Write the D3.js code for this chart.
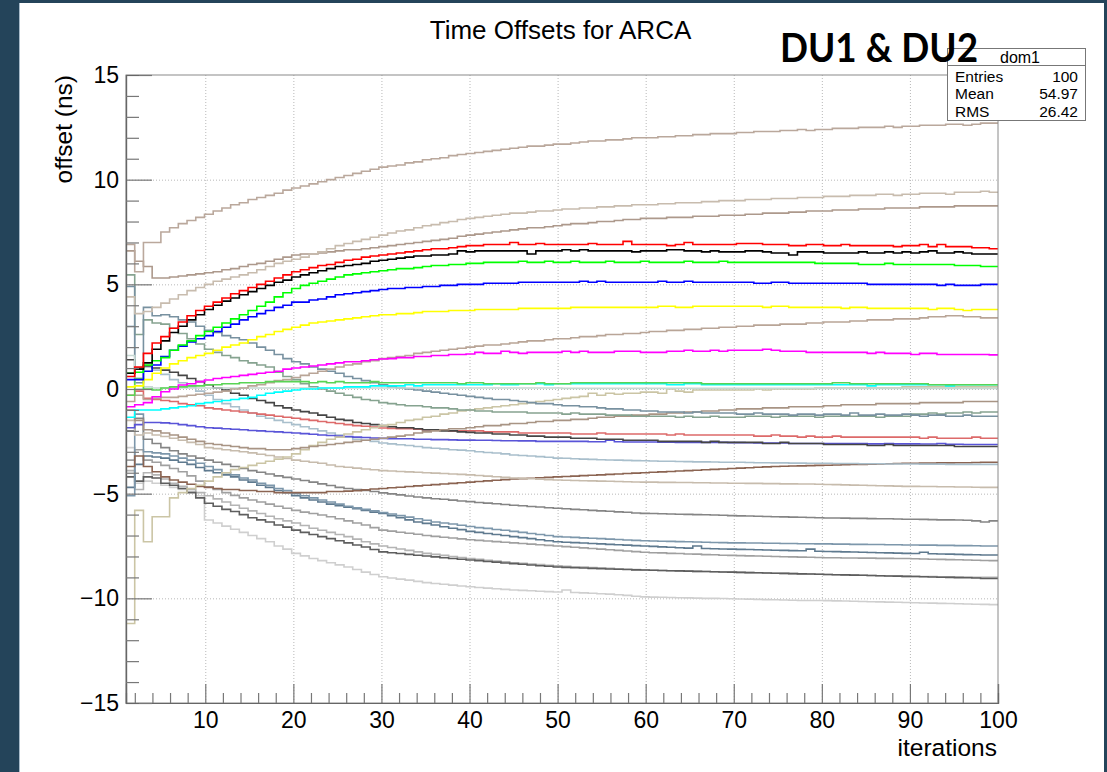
<!DOCTYPE html>
<html>
<head>
<meta charset="utf-8">
<script src="https://cdn.jsdelivr.net/npm/d3@7"></script>
<style>
body { margin: 0; background: #24445a; }
svg { display: block; }
</style>
</head>
<body>
<svg id="chart" width="1107" height="772"></svg>
<script>
// offsets per iteration (ns), one value per bin
var tanTop = [6.9,5.6,7.0,7.0,7.5,7.7,7.9,8.05,8.2,8.35, 8.5,8.65,8.8,8.9,9.05,9.15,9.25,9.35,9.5,9.6,
  9.7,9.8,9.9,10.0,10.1,10.2,10.3,10.4,10.5,10.6, 10.65,10.7,10.8,10.85,10.95,11.0,11.05,11.15,11.2,11.25,
  11.3,11.35,11.4,11.45,11.5,11.55,11.6,11.6,11.65,11.7, 11.7,11.75,11.8,11.85,11.85,11.9,11.9,11.95,12.0,12.0,
  12.0,12.05,12.05,12.1,12.1,12.15,12.15,12.2,12.2,12.2, 12.25,12.25,12.3,12.3,12.3,12.35,12.35,12.4,12.35,12.4,
  12.4,12.45,12.45,12.45,12.5,12.5,12.5,12.55,12.5,12.55, 12.55,12.6,12.6,12.6,12.65,12.65,12.6,12.65,12.7,12.7];
var tanLight = [4.4,3.6,3.7,3.9,4.1,4.3,4.5,4.7,4.85,5.0, 5.15,5.25,5.35,5.45,5.55,5.7,5.85,6.0,6.1,6.2,
  6.3,6.45,6.55,6.7,6.85,6.95,7.05,7.15,7.25,7.35, 7.45,7.55,7.6,7.7,7.8,7.85,7.95,8.0,8.1,8.15,
  8.2,8.25,8.3,8.35,8.4,8.4,8.45,8.5,8.5,8.55, 8.6,8.6,8.65,8.65,8.7,8.7,8.75,8.75,8.8,8.8,
  8.8,8.85,8.85,8.9,8.9,8.9,8.95,8.95,9.0,9.0, 9.0,9.05,9.05,9.05,9.1,9.1,9.1,9.15,9.15,9.15,
  9.2,9.2,9.2,9.25,9.25,9.25,9.3,9.3,9.25,9.3, 9.3,9.35,9.35,9.35,9.3,9.4,9.4,9.4,9.45,9.4];
var brownTan = [6.6,6.1,5.85,5.3,5.3,5.35,5.4,5.45,5.5,5.55, 5.6,5.7,5.75,5.85,5.95,6.0,6.1,6.2,6.3,6.4,
  6.45,6.45,6.5,6.55,6.6,6.65,6.65,6.7,6.75,6.8, 6.85,6.9,6.95,7.0,7.05,7.1,7.15,7.2,7.3,7.35,
  7.4,7.45,7.5,7.55,7.6,7.65,7.7,7.7,7.75,7.8, 7.85,7.9,7.9,7.95,8.0,8.0,8.05,8.1,8.1,8.15,
  8.15,8.15,8.2,8.2,8.2,8.25,8.25,8.25,8.3,8.3, 8.3,8.35,8.35,8.4,8.4,8.4,8.45,8.45,8.5,8.5,
  8.5,8.55,8.55,8.55,8.6,8.6,8.6,8.65,8.65,8.65, 8.65,8.7,8.7,8.7,8.7,8.75,8.75,8.75,8.75,8.75];
var red = [0.6,1.05,1.7,2.2,2.5,2.9,3.2,3.5,3.75,3.95, 4.15,4.35,4.55,4.7,4.85,5.0,5.15,5.3,5.45,5.6,
  5.7,5.8,5.9,5.95,6.05,6.15,6.2,6.3,6.35,6.4, 6.45,6.5,6.55,6.6,6.65,6.7,6.7,6.75,6.8,6.85,
  6.85,6.9,6.9,6.9,7.0,6.9,6.9,6.95,6.9,6.9, 6.9,6.9,6.9,6.95,6.9,6.9,6.9,7.05,6.9,6.9,
  6.9,6.9,6.85,6.9,7.0,6.9,6.9,6.9,6.9,6.9, 6.95,6.95,6.95,6.9,6.9,6.9,6.85,6.85,6.9,6.9,
  6.85,6.85,6.9,6.85,6.85,6.85,6.85,6.85,6.8,6.85, 6.85,6.9,6.8,6.9,6.8,6.8,6.8,6.75,6.75,6.7];
var black = [0.75,0.95,1.25,1.9,2.3,2.7,3.0,3.3,3.55,3.8, 4.0,4.2,4.35,4.5,4.65,4.8,4.95,5.1,5.2,5.35,
  5.45,5.55,5.65,5.75,5.85,5.9,5.95,6.0,6.1,6.15, 6.2,6.25,6.3,6.35,6.35,6.4,6.4,6.45,6.6,6.55,
  6.6,6.6,6.6,6.6,6.6,6.6,6.45,6.6,6.6,6.6, 6.65,6.6,6.65,6.6,6.6,6.6,6.6,6.6,6.55,6.6,
  6.6,6.6,6.65,6.65,6.6,6.6,6.55,6.6,6.55,6.55, 6.55,6.6,6.6,6.55,6.5,6.5,6.4,6.55,6.55,6.55,
  6.5,6.5,6.5,6.5,6.55,6.5,6.5,6.55,6.5,6.55, 6.5,6.55,6.6,6.5,6.5,6.55,6.5,6.45,6.45,6.45];
var green = [0.75,0.8,1.15,1.35,1.5,1.85,2.1,2.3,2.55,2.75, 2.95,3.15,3.35,3.55,3.75,3.95,4.15,4.4,4.6,4.8,
  4.95,5.05,5.15,5.25,5.35,5.45,5.5,5.55,5.6,5.65, 5.7,5.75,5.75,5.8,5.85,5.9,5.9,5.95,5.95,6.0,
  6.0,6.05,6.05,6.05,6.05,6.1,6.05,6.05,6.1,6.05, 6.05,6.1,6.05,6.05,6.05,6.1,6.05,6.05,6.05,6.1,
  6.05,6.05,6.05,6.05,6.1,6.05,6.05,6.05,6.1,6.05, 6.05,6.05,6.05,6.05,6.05,6.05,6.05,6.05,6.05,6.0,
  6.0,6.0,6.0,6.0,5.95,5.95,5.95,6.0,5.95,5.95, 5.95,5.95,5.95,5.95,5.95,5.9,5.9,5.9,5.85,5.85];
var blue = [0.45,0.45,0.85,1.15,1.55,1.85,2.05,2.25,2.4,2.55, 2.75,2.95,3.1,3.3,3.45,3.6,3.75,3.9,4.0,4.15,
  4.15,4.25,4.3,4.4,4.5,4.55,4.6,4.65,4.7,4.75, 4.8,4.8,4.85,4.85,4.9,4.9,4.95,4.95,5.0,5.0,
  5.0,5.05,5.05,5.05,5.05,5.1,5.1,5.1,5.1,5.1, 5.1,5.1,5.15,5.1,5.15,5.1,5.1,5.1,5.1,5.1,
  5.1,5.15,5.1,5.1,5.15,5.1,5.1,5.1,5.1,5.1, 5.1,5.1,5.05,5.05,5.1,5.1,5.05,5.05,5.05,5.05,
  5.05,5.05,5.05,5.05,5.05,5.0,5.0,5.0,5.0,5.0, 5.0,5.0,5.0,4.95,5.0,4.95,4.95,4.95,5.0,5.0];
var yellow = [0.1,0.15,0.45,0.75,1.0,1.2,1.35,1.5,1.6,1.7, 1.85,2.0,2.1,2.2,2.35,2.5,2.6,2.75,2.85,2.95,
  3.05,3.15,3.2,3.25,3.3,3.35,3.4,3.45,3.5,3.55, 3.55,3.6,3.6,3.65,3.7,3.7,3.7,3.75,3.75,3.75,
  3.8,3.8,3.8,3.8,3.8,3.85,3.85,3.85,3.85,3.85, 3.85,3.9,3.9,3.9,3.9,3.9,3.9,3.9,3.9,3.9,
  3.9,3.95,3.95,3.9,3.9,3.95,3.95,3.95,3.95,3.95, 3.95,3.95,3.95,3.9,3.95,3.95,3.9,3.9,3.9,3.9,
  3.9,3.9,3.85,3.9,3.9,3.85,3.85,3.85,3.85,3.85, 3.85,3.85,3.8,3.85,3.85,3.8,3.75,3.8,3.8,3.8];
var tanMid = [-0.6,-0.3,-0.5,-0.45,-0.4,-0.4,-0.35,-0.3,-0.25,-0.2, -0.15,-0.1,0.0,0.05,0.15,0.2,0.3,0.4,0.45,0.55,
  0.65,0.75,0.85,0.95,1.05,1.15,1.2,1.3,1.35,1.45, 1.5,1.55,1.6,1.7,1.75,1.8,1.85,1.9,1.95,2.0,
  2.05,2.1,2.1,2.15,2.2,2.25,2.3,2.3,2.35,2.4, 2.4,2.45,2.5,2.5,2.55,2.6,2.6,2.65,2.65,2.7,
  2.75,2.75,2.8,2.8,2.85,2.85,2.9,2.9,2.95,2.95, 3.0,3.0,3.05,3.05,3.05,3.1,3.1,3.1,3.15,3.15,
  3.2,3.2,3.2,3.25,3.25,3.3,3.3,3.3,3.35,3.35, 3.35,3.4,3.45,3.45,3.5,3.5,3.45,3.45,3.4,3.4];
var magenta = [-0.85,-0.75,-0.65,-0.37,-0.13,0.0,0.19,0.25,0.35,0.43, 0.5,0.55,0.6,0.65,0.7,0.75,0.8,0.85,0.95,1.0,
  1.05,1.1,1.15,1.2,1.25,1.3,1.3,1.35,1.4,1.43, 1.45,1.5,1.5,1.55,1.55,1.6,1.6,1.65,1.65,1.67,
  1.75,1.7,1.7,1.8,1.75,1.7,1.75,1.75,1.75,1.75, 1.8,1.75,1.8,1.75,1.75,1.75,1.8,1.8,1.8,1.75,
  1.75,1.75,1.8,1.8,1.85,1.8,1.8,1.85,1.8,1.85, 1.85,1.85,1.85,1.9,1.85,1.8,1.8,1.8,1.75,1.75,
  1.75,1.75,1.75,1.75,1.75,1.7,1.75,1.7,1.7,1.7, 1.65,1.7,1.7,1.65,1.65,1.65,1.65,1.65,1.65,1.63];
var lightGreen = [-0.3,0.5,0.0,-0.05,0.05,0.1,0.1,0.15,0.15,0.2, 0.2,0.25,0.25,0.3,0.3,0.3,0.35,0.35,0.35,0.35,
  0.35,0.3,0.35,0.3,0.35,0.3,0.3,0.3,0.35,0.3, 0.3,0.3,0.3,0.3,0.3,0.3,0.3,0.3,0.25,0.3,
  0.3,0.25,0.25,0.25,0.25,0.25,0.25,0.3,0.25,0.25, 0.25,0.3,0.3,0.3,0.3,0.3,0.3,0.3,0.3,0.3,
  0.3,0.3,0.3,0.3,0.3,0.3,0.25,0.25,0.25,0.25, 0.25,0.25,0.25,0.25,0.25,0.25,0.25,0.25,0.25,0.25,
  0.25,0.3,0.3,0.25,0.25,0.25,0.25,0.25,0.25,0.25, 0.25,0.25,0.2,0.2,0.2,0.2,0.2,0.2,0.2,0.2];
var cyan = [-1.35,-1.0,-1.0,-1.0,-0.95,-0.9,-0.85,-0.8,-0.7,-0.65, -0.6,-0.55,-0.5,-0.45,-0.4,-0.3,-0.2,-0.15,-0.1,-0.05,
  0.0,0.0,0.05,0.05,0.05,0.1,0.1,0.1,0.15,0.15, 0.15,0.15,0.2,0.15,0.2,0.2,0.2,0.2,0.2,0.2,
  0.2,0.2,0.25,0.2,0.2,0.25,0.25,0.25,0.2,0.25, 0.25,0.25,0.25,0.25,0.25,0.25,0.25,0.25,0.25,0.25,
  0.25,0.25,0.2,0.2,0.25,0.25,0.2,0.2,0.2,0.2, 0.2,0.2,0.2,0.2,0.2,0.2,0.2,0.2,0.2,0.2,
  0.2,0.2,0.2,0.2,0.2,0.15,0.2,0.2,0.2,0.2, 0.2,0.2,0.2,0.2,0.15,0.2,0.2,0.2,0.2,0.2];
var paleTeal = [1.6,0.0,0.1,0.05,0.05,0.05,0.05,0.05,0.05,0.05, 0.05,0.05,0.05,0.05,0.05,0.05,0.05,0.05,0.05,0.05,
  0.05,0.05,0.05,0.05,0.05,0.05,0.05,0.05,0.05,0.05, 0.05,0.05,0.05,0.05,0.05,0.05,0.05,0.05,0.05,0.05,
  0.05,0.05,0.05,0.05,0.05,0.05,0.05,0.05,0.05,0.05, 0.03,0.03,0.03,0.03,0.03,0.03,0.03,0.03,0.03,0.03,
  0.03,0.03,0.03,0.03,0.03,0.03,0.03,0.03,0.03,0.03, 0.03,0.03,0.03,0.03,0.03,0.03,0.03,0.03,0.03,0.03,
  0.03,0.03,0.03,0.03,0.03,0.03,0.03,0.03,0.03,0.03, 0.03,0.03,0.03,0.03,0.03,0.03,0.03,0.03,0.03,0.03];
var blueGrayHigh = [4.9,0.3,3.9,3.5,3.55,3.45,3.3,3.2,3.0,2.8, 2.7,2.55,2.45,2.35,2.2,2.0,1.85,1.65,1.45,1.3,
  1.2,1.05,0.95,0.85,0.75,0.6,0.5,0.4,0.3,0.2, 0.1,0.05,0.0,-0.05,-0.1,-0.15,-0.2,-0.25,-0.3,-0.35,
  -0.4,-0.45,-0.5,-0.5,-0.55,-0.6,-0.65,-0.7,-0.7,-0.75, -0.8,-0.8,-0.85,-0.85,-0.9,-0.95,-0.95,-1.0,-1.0,-1.05,
  -1.05,-1.1,-1.1,-1.1,-1.15,-1.1,-1.15,-1.15,-1.15,-1.15, -1.2,-1.2,-1.15,-1.2,-1.2,-1.2,-1.25,-1.2,-1.2,-1.25,
  -1.2,-1.2,-1.25,-1.15,-1.25,-1.25,-1.2,-1.25,-1.25,-1.2, -1.25,-1.3,-1.25,-1.25,-1.3,-1.3,-1.25,-1.3,-1.3,-1.3];
var grayGreen = [5.45,2.6,3.3,3.15,3.1,2.9,2.65,2.4,2.15,1.9, 1.75,1.6,1.5,1.35,1.25,1.15,1.05,0.8,0.6,0.45,
  0.25,0.1,0.0,-0.1,-0.2,-0.3,-0.4,-0.5,-0.55,-0.65, -0.7,-0.75,-0.8,-0.8,-0.85,-0.9,-0.9,-0.95,-1.0,-1.0,
  -1.05,-1.05,-1.1,-1.1,-1.1,-1.1,-1.15,-1.15,-1.15,-1.15, -1.2,-1.15,-1.2,-1.2,-1.2,-1.25,-1.25,-1.25,-1.3,-1.3,
  -1.3,-1.3,-1.3,-1.35,-1.3,-1.35,-1.35,-1.3,-1.35,-1.35, -1.35,-1.3,-1.3,-1.3,-1.35,-1.3,-1.3,-1.3,-1.3,-1.35,
  -1.3,-1.3,-1.3,-1.3,-1.3,-1.3,-1.35,-1.3,-1.3,-1.3, -1.2,-1.2,-1.15,-1.2,-1.15,-1.15,-1.1,-1.15,-1.1,-1.1];
var brownTanLow = [-1.0,-1.5,-1.95,-2.0,-2.1,-2.2,-2.3,-2.4,-2.5,-2.6, -2.65,-2.7,-2.75,-2.8,-2.85,-2.85,-2.9,-2.9,-2.9,-2.85,
  -2.8,-2.75,-2.7,-2.65,-2.6,-2.55,-2.5,-2.45,-2.4,-2.35, -2.3,-2.25,-2.2,-2.1,-2.05,-2.0,-1.95,-1.9,-1.9,-1.85,
  -1.8,-1.75,-1.75,-1.7,-1.65,-1.65,-1.6,-1.55,-1.55,-1.5, -1.5,-1.45,-1.45,-1.4,-1.35,-1.35,-1.3,-1.3,-1.25,-1.25,
  -1.2,-1.2,-1.15,-1.15,-1.1,-1.1,-1.05,-1.05,-1.0,-1.0, -0.95,-0.95,-0.95,-0.9,-0.9,-0.9,-0.85,-0.85,-0.85,-0.85,
  -0.8,-0.8,-0.75,-0.75,-0.75,-0.75,-0.7,-0.7,-0.7,-0.7, -0.7,-0.65,-0.65,-0.65,-0.65,-0.65,-0.6,-0.6,-0.6,-0.6];
var khaki = [-11.2,-5.8,-7.3,-6.1,-6.1,-5.2,-4.95,-4.75,-4.6,-4.4, -4.2,-4.0,-3.85,-3.75,-3.65,-3.55,-3.45,-3.35,-3.25,-3.1,
  -2.9,-2.7,-2.55,-2.4,-2.3,-2.15,-2.05,-1.95,-1.85,-1.75, -1.7,-1.6,-1.5,-1.45,-1.35,-1.3,-1.2,-1.15,-1.05,-1.0,
  -0.95,-0.9,-0.85,-0.8,-0.75,-0.7,-0.65,-0.6,-0.55,-0.5, -0.45,-0.4,-0.35,-0.2,-0.3,-0.2,-0.25,-0.2,-0.2,-0.15,
  -0.15,-0.2,0.0,-0.1,-0.15,-0.05,-0.05,-0.05,-0.05,-0.05, -0.05,-0.05,0.0,-0.05,0.0,0.0,0.0,0.0,0.0,0.05,
  0.05,0.05,0.05,0.05,0.05,0.05,0.05,0.05,0.05,0.1, 0.1,0.1,0.1,0.1,0.1,0.1,0.1,0.1,0.1,0.1];
var darkGray = [1.4,1.0,1.1,1.0,0.9,0.8,0.65,0.5,0.35,0.2, 0.05,-0.05,-0.2,-0.3,-0.45,-0.55,-0.65,-0.8,-0.9,-1.0,
  -1.08,-1.15,-1.25,-1.35,-1.45,-1.5,-1.6,-1.65,-1.7,-1.75, -1.8,-1.85,-1.85,-1.9,-1.95,-1.95,-2.0,-2.0,-2.05,-2.07,
  -2.1,-2.1,-2.15,-2.15,-2.2,-2.2,-2.25,-2.25,-2.3,-2.3, -2.3,-2.35,-2.35,-2.35,-2.4,-2.4,-2.4,-2.45,-2.45,-2.45,
  -2.45,-2.5,-2.5,-2.5,-2.5,-2.5,-2.55,-2.5,-2.55,-2.55, -2.55,-2.55,-2.55,-2.6,-2.6,-2.55,-2.6,-2.6,-2.6,-2.6,
  -2.65,-2.65,-2.65,-2.65,-2.65,-2.7,-2.7,-2.65,-2.7,-2.7, -2.7,-2.7,-2.7,-2.7,-2.7,-2.75,-2.75,-2.75,-2.75,-2.75];
var lightRed = [-0.3,-0.1,-0.45,-0.5,-0.55,-0.6,-0.7,-0.75,-0.8,-0.9, -0.95,-1.0,-1.05,-1.1,-1.15,-1.2,-1.25,-1.3,-1.35,-1.4,
  -1.45,-1.5,-1.55,-1.6,-1.65,-1.7,-1.75,-1.78,-1.82,-1.86, -1.88,-1.9,-1.9,-1.92,-1.95,-1.95,-1.97,-2.0,-2.0,-2.0,
  -2.0,-2.05,-2.05,-2.05,-2.05,-2.1,-2.1,-2.1,-2.1,-2.1, -2.1,-2.15,-2.15,-2.15,-2.1,-2.15,-2.15,-2.15,-2.15,-2.15,
  -2.15,-2.15,-2.2,-2.15,-2.2,-2.2,-2.2,-2.2,-2.2,-2.2, -2.2,-2.2,-2.25,-2.25,-2.2,-2.25,-2.25,-2.3,-2.25,-2.3,
  -2.3,-2.25,-2.3,-2.3,-2.3,-2.3,-2.3,-2.3,-2.3,-2.3, -2.3,-2.35,-2.3,-2.35,-2.35,-2.35,-2.35,-2.3,-2.35,-2.35];
var bluePurple = [-1.85,-1.7,-1.6,-1.6,-1.62,-1.65,-1.7,-1.75,-1.8,-1.85, -1.87,-1.9,-1.92,-1.95,-1.98,-2.0,-2.03,-2.05,-2.08,-2.1,
  -2.13,-2.16,-2.2,-2.22,-2.25,-2.27,-2.3,-2.32,-2.34,-2.36, -2.37,-2.38,-2.38,-2.4,-2.4,-2.42,-2.42,-2.43,-2.44,-2.44,
  -2.45,-2.45,-2.46,-2.47,-2.47,-2.48,-2.48,-2.5,-2.5,-2.5, -2.5,-2.5,-2.5,-2.52,-2.52,-2.45,-2.52,-2.53,-2.53,-2.53,
  -2.53,-2.54,-2.54,-2.55,-2.55,-2.55,-2.55,-2.55,-2.55,-2.56, -2.56,-2.57,-2.58,-2.58,-2.58,-2.58,-2.6,-2.6,-2.6,-2.6,
  -2.6,-2.6,-2.6,-2.6,-2.6,-2.62,-2.62,-2.6,-2.62,-2.62, -2.62,-2.63,-2.63,-2.6,-2.64,-2.64,-2.65,-2.65,-2.65,-2.65];
var lightBlueGray = [3.0,0.5,1.05,0.9,0.7,0.45,0.3,0.1,-0.1,-0.3, -0.5,-0.7,-0.85,-1.0,-1.15,-1.3,-1.4,-1.5,-1.6,-1.7,
  -1.8,-1.9,-2.0,-2.1,-2.2,-2.3,-2.4,-2.45,-2.5,-2.58, -2.62,-2.66,-2.7,-2.75,-2.8,-2.83,-2.86,-2.9,-2.92,-2.95,
  -3.0,-3.03,-3.06,-3.1,-3.15,-3.18,-3.2,-3.23,-3.26,-3.3, -3.31,-3.33,-3.35,-3.36,-3.38,-3.39,-3.4,-3.41,-3.42,-3.43,
  -3.44,-3.45,-3.45,-3.46,-3.47,-3.48,-3.48,-3.49,-3.5,-3.5, -3.5,-3.51,-3.52,-3.52,-3.53,-3.53,-3.54,-3.54,-3.55,-3.55,
  -3.55,-3.56,-3.56,-3.56,-3.57,-3.57,-3.57,-3.58,-3.58,-3.58, -3.58,-3.59,-3.59,-3.59,-3.6,-3.6,-3.6,-3.6,-3.6,-3.6];
var paleTan = [-1.5,-2.2,-2.1,-2.2,-2.27,-2.35,-2.45,-2.55,-2.65,-2.8, -2.85,-2.9,-2.95,-3.0,-3.05,-3.12,-3.18,-3.25,-3.32,-3.4,
  -3.45,-3.5,-3.55,-3.63,-3.7,-3.74,-3.78,-3.82,-3.86,-3.9, -3.92,-3.94,-3.96,-3.98,-4.0,-4.02,-4.04,-4.06,-4.08,-4.1,
  -4.13,-4.16,-4.19,-4.22,-4.25,-4.27,-4.29,-4.31,-4.33,-4.35, -4.36,-4.37,-4.38,-4.39,-4.4,-4.41,-4.42,-4.43,-4.44,-4.45,
  -4.45,-4.46,-4.46,-4.47,-4.47,-4.48,-4.48,-4.49,-4.49,-4.5, -4.5,-4.51,-4.51,-4.52,-4.52,-4.53,-4.53,-4.54,-4.54,-4.55,
  -4.56,-4.57,-4.58,-4.59,-4.6,-4.61,-4.62,-4.63,-4.64,-4.65, -4.65,-4.66,-4.66,-4.67,-4.67,-4.68,-4.68,-4.69,-4.7,-4.7];
var brown = [-3.7,-3.2,-3.7,-3.95,-4.2,-4.35,-4.45,-4.55,-4.65,-4.7, -4.75,-4.8,-4.8,-4.85,-4.85,-4.9,-4.9,-4.95,-4.95,-4.95,
  -4.95,-4.95,-4.95,-4.9,-4.9,-4.88,-4.86,-4.82,-4.78,-4.75, -4.72,-4.69,-4.66,-4.63,-4.6,-4.57,-4.54,-4.51,-4.48,-4.45,
  -4.42,-4.39,-4.36,-4.33,-4.3,-4.28,-4.26,-4.24,-4.22,-4.2, -4.18,-4.16,-4.14,-4.12,-4.1,-4.08,-4.06,-4.04,-4.02,-4.0,
  -3.98,-3.96,-3.94,-3.92,-3.9,-3.88,-3.86,-3.84,-3.82,-3.8, -3.78,-3.76,-3.74,-3.72,-3.7,-3.69,-3.68,-3.67,-3.66,-3.65,
  -3.64,-3.63,-3.62,-3.61,-3.6,-3.59,-3.58,-3.57,-3.56,-3.55, -3.55,-3.54,-3.54,-3.53,-3.53,-3.52,-3.52,-3.51,-3.5,-3.5];
var grayMid = [-2.0,-1.4,-2.4,-2.6,-2.8,-2.95,-3.1,-3.2,-3.3,-3.4, -3.5,-3.6,-3.7,-3.8,-3.9,-3.98,-4.06,-4.15,-4.22,-4.3,
  -4.37,-4.45,-4.53,-4.61,-4.7,-4.75,-4.8,-4.85,-4.9,-4.96, -5.01,-5.06,-5.11,-5.16,-5.2,-5.24,-5.27,-5.31,-5.35,-5.38,
  -5.42,-5.45,-5.48,-5.52,-5.55,-5.58,-5.61,-5.64,-5.67,-5.7, -5.72,-5.75,-5.77,-5.8,-5.82,-5.84,-5.87,-5.89,-5.92,-5.94,
  -5.95,-5.96,-5.97,-5.98,-5.99,-6.0,-6.01,-6.02,-6.03,-6.05, -6.06,-6.07,-6.08,-6.09,-6.1,-6.11,-6.12,-6.13,-6.14,-6.15,
  -6.16,-6.16,-6.17,-6.18,-6.18,-6.19,-6.2,-6.2,-6.21,-6.22, -6.22,-6.23,-6.24,-6.25,-6.25,-6.26,-6.27,-6.3,-6.35,-6.3];
var blueGrayLight = [-5.1,-1.2,-3.0,-3.05,-3.1,-3.2,-3.3,-3.4,-3.55,-3.7, -3.85,-4.0,-4.1,-4.25,-4.35,-4.5,-4.6,-4.75,-4.85,-5.0,
  -5.1,-5.2,-5.3,-5.4,-5.5,-5.6,-5.68,-5.75,-5.82,-5.9, -5.97,-6.05,-6.12,-6.2,-6.27,-6.35,-6.4,-6.45,-6.51,-6.57,
  -6.62,-6.66,-6.71,-6.75,-6.8,-6.85,-6.9,-6.95,-7.0,-7.05, -7.07,-7.09,-7.11,-7.13,-7.15,-7.17,-7.19,-7.21,-7.23,-7.25,
  -7.26,-7.27,-7.28,-7.29,-7.3,-7.31,-7.32,-7.33,-7.34,-7.35, -7.35,-7.36,-7.36,-7.37,-7.37,-7.38,-7.38,-7.39,-7.39,-7.4,
  -7.4,-7.41,-7.41,-7.42,-7.42,-7.43,-7.43,-7.44,-7.44,-7.45, -7.45,-7.46,-7.46,-7.47,-7.47,-7.48,-7.48,-7.49,-7.5,-7.5];
var blueGrayDark = [-4.7,-3.6,-3.2,-3.25,-3.3,-3.4,-3.5,-3.6,-3.75,-3.9, -4.0,-4.1,-4.2,-4.35,-4.45,-4.6,-4.7,-4.85,-4.95,-5.1,
  -5.2,-5.3,-5.4,-5.5,-5.58,-5.65,-5.72,-5.8,-5.88,-5.95, -6.05,-6.15,-6.25,-6.35,-6.42,-6.5,-6.58,-6.65,-6.72,-6.8,
  -6.85,-6.9,-6.95,-7.0,-7.05,-7.1,-7.15,-7.2,-7.25,-7.3, -7.32,-7.34,-7.36,-7.38,-7.4,-7.42,-7.44,-7.46,-7.48,-7.5,
  -7.52,-7.54,-7.56,-7.58,-7.6,-7.5,-7.62,-7.63,-7.64,-7.65, -7.66,-7.67,-7.68,-7.69,-7.7,-7.71,-7.72,-7.73,-7.65,-7.75,
  -7.76,-7.77,-7.78,-7.79,-7.8,-7.81,-7.82,-7.83,-7.84,-7.85, -7.86,-7.8,-7.87,-7.88,-7.89,-7.9,-7.91,-7.92,-7.93,-7.93];
var grayLow = [-3.4,-2.9,-3.4,-3.5,-3.65,-3.8,-3.95,-4.15,-4.4,-4.67, -4.8,-4.95,-5.08,-5.2,-5.3,-5.4,-5.5,-5.6,-5.7,-5.8,
  -5.88,-5.95,-6.02,-6.1,-6.2,-6.3,-6.4,-6.5,-6.62,-6.74, -6.79,-6.84,-6.89,-6.94,-7.0,-7.04,-7.08,-7.12,-7.16,-7.2,
  -7.23,-7.26,-7.29,-7.32,-7.35,-7.38,-7.41,-7.44,-7.47,-7.5, -7.53,-7.56,-7.59,-7.62,-7.65,-7.68,-7.71,-7.74,-7.77,-7.8,
  -7.82,-7.83,-7.85,-7.86,-7.88,-7.89,-7.91,-7.92,-7.94,-7.95, -7.96,-7.97,-7.98,-7.99,-8.0,-8.01,-8.02,-8.03,-8.04,-8.05,
  -8.06,-8.06,-8.07,-8.07,-8.08,-8.08,-8.09,-8.09,-8.1,-8.1, -8.11,-8.12,-8.13,-8.14,-8.15,-8.16,-8.17,-8.18,-8.19,-8.2];
var grayDark = [-4.2,-4.4,-4.2,-4.25,-4.5,-4.6,-4.75,-4.95,-5.2,-5.46, -5.6,-5.75,-5.85,-6.0,-6.15,-6.25,-6.35,-6.5,-6.6,-6.74,
  -6.85,-6.95,-7.05,-7.15,-7.25,-7.35,-7.45,-7.55,-7.67,-7.78, -7.82,-7.86,-7.9,-7.94,-7.98,-8.02,-8.06,-8.1,-8.13,-8.17,
  -8.2,-8.24,-8.27,-8.31,-8.34,-8.37,-8.41,-8.44,-8.47,-8.5, -8.52,-8.54,-8.55,-8.57,-8.58,-8.6,-8.61,-8.62,-8.64,-8.65,
  -8.66,-8.67,-8.68,-8.69,-8.7,-8.71,-8.72,-8.73,-8.74,-8.75, -8.76,-8.77,-8.78,-8.79,-8.8,-8.81,-8.82,-8.83,-8.84,-8.85,
  -8.86,-8.87,-8.88,-8.89,-8.9,-8.91,-8.92,-8.93,-8.94,-8.95, -8.96,-8.97,-8.98,-8.99,-9.0,-9.01,-9.02,-9.03,-9.05,-9.05];
var grayLight = [-3.9,-4.8,-4.0,-4.1,-4.3,-4.5,-4.65,-4.8,-4.95,-5.1, -5.25,-5.4,-5.55,-5.7,-5.82,-5.95,-6.08,-6.2,-6.3,-6.4,
  -6.52,-6.65,-6.75,-6.85,-6.95,-7.05,-7.17,-7.3,-7.4,-7.5, -7.57,-7.64,-7.71,-7.78,-7.85,-7.9,-7.95,-8.0,-8.05,-8.1,
  -8.14,-8.18,-8.22,-8.26,-8.3,-8.33,-8.36,-8.39,-8.42,-8.45, -8.47,-8.49,-8.51,-8.53,-8.55,-8.57,-8.59,-8.61,-8.63,-8.65,
  -8.66,-8.67,-8.68,-8.69,-8.7,-8.71,-8.72,-8.73,-8.74,-8.75, -8.76,-8.77,-8.78,-8.79,-8.8,-8.81,-8.82,-8.83,-8.84,-8.85,
  -8.86,-8.87,-8.88,-8.89,-8.9,-8.91,-8.92,-8.93,-8.94,-8.95, -8.95,-8.96,-8.96,-8.97,-8.97,-8.98,-8.98,-8.99,-9.0,-9.0];
var palestGray = [-2.8,-4.5,-4.4,-4.5,-4.6,-4.7,-4.8,-4.9,-5.1,-6.26, -6.4,-6.55,-6.7,-6.85,-7.0,-7.15,-7.3,-7.5,-7.65,-7.85,
  -7.97,-8.1,-8.2,-8.3,-8.4,-8.5,-8.62,-8.75,-8.86,-8.97, -9.03,-9.08,-9.13,-9.19,-9.25,-9.29,-9.33,-9.37,-9.41,-9.45,
  -9.48,-9.51,-9.54,-9.57,-9.6,-9.62,-9.64,-9.66,-9.68,-9.7, -9.6,-9.72,-9.74,-9.76,-9.78,-9.8,-9.83,-9.86,-9.9,-9.93,
  -9.94,-9.95,-9.96,-9.97,-9.98,-9.99,-10.0,-10.0,-10.01,-10.02, -10.03,-10.04,-10.05,-10.06,-10.07,-10.08,-10.09,-10.1,-10.1,-10.1,
  -10.11,-10.12,-10.13,-10.14,-10.15,-10.16,-10.17,-10.18,-10.19,-10.2, -10.21,-10.22,-10.23,-10.24,-10.25,-10.26,-10.27,-10.28,-10.29,-10.3];

var xTicks = [10, 20, 30, 40, 50, 60, 70, 80, 90, 100];
var yTicks = [-15, -10, -5, 0, 5, 10, 15];
var statsRows = [["Entries", "100"], ["Mean", "54.97"], ["RMS", "26.42"]];

var series = [
  {values: palestGray, color: "#cfcfcf"},
  {values: grayLight, color: "#b4b4b4"},
  {values: grayDark, color: "#5e5e5e"},
  {values: grayLow, color: "#a0a0a0"},
  {values: blueGrayDark, color: "#5f7a8f"},
  {values: blueGrayLight, color: "#7d97ab"},
  {values: grayMid, color: "#858585"},
  {values: brown, color: "#8b6452"},
  {values: paleTan, color: "#c7bcad"},
  {values: lightBlueGray, color: "#a9bfcc"},
  {values: bluePurple, color: "#5954d8"},
  {values: lightRed, color: "#dd6a6a"},
  {values: darkGray, color: "#454545"},
  {values: khaki, color: "#cbc5a5"},
  {values: brownTanLow, color: "#a89484"},
  {values: grayGreen, color: "#86a390"},
  {values: blueGrayHigh, color: "#7891a0"},
  {values: paleTeal, color: "#c6d8d2"},
  {values: tanMid, color: "#b9a597"},
  {values: cyan, color: "#00ffff"},
  {values: lightGreen, color: "#59d454"},
  {values: magenta, color: "#ff00ff"},
  {values: yellow, color: "#ffff00"},
  {values: blue, color: "#0000ff"},
  {values: green, color: "#00ff00"},
  {values: black, color: "#000000"},
  {values: red, color: "#ff0000"},
  {values: brownTan, color: "#ad998c"},
  {values: tanLight, color: "#c8bcae"},
  {values: tanTop, color: "#baa89c"}
];

var svg = d3.select("#chart");
var font = "'Liberation Sans', Arial, Helvetica, sans-serif";

// white pad
svg.append("rect").attr("x", 19).attr("y", 3).attr("width", 1085).attr("height", 769).attr("fill", "#ffffff");
svg.append("line").attr("x1", 19.5).attr("x2", 19.5).attr("y1", 3).attr("y2", 772)
  .attr("stroke", "#a9bccb").attr("stroke-width", 1);

var x = d3.scaleLinear().domain([1, 100]).range([126, 998]);
var y = d3.scaleLinear().domain([-15, 15]).range([703, 75]);
var binWidth = 0.99;

// grid
var grid = svg.append("g");
grid.selectAll(".gx").data(xTicks.slice(0, -1)).enter().append("line")
  .attr("x1", d => x(d) + 0.5).attr("x2", d => x(d) + 0.5)
  .attr("y1", y(15)).attr("y2", y(-15))
  .attr("stroke", "#b8b8b8").attr("stroke-width", 1).attr("stroke-dasharray", "1,2");
grid.selectAll(".gy").data(yTicks.slice(1, -1)).enter().append("line")
  .attr("x1", x(1)).attr("x2", x(100))
  .attr("y1", d => y(d) + 0.5).attr("y2", d => y(d) + 0.5)
  .attr("stroke", "#b8b8b8").attr("stroke-width", 1).attr("stroke-dasharray", "1,2");

// histograms
var line = d3.line()
  .x(d => x(d[0]))
  .y(d => y(d[1]))
  .curve(d3.curveStepAfter);

var plot = svg.append("g");
series.forEach(function(s) {
  var pts = s.values.map((v, i) => [1 + i * binWidth, v]);
  pts.push([100, s.values[s.values.length - 1]]);
  plot.append("path")
    .attr("d", line(pts))
    .attr("fill", "none")
    .attr("stroke", s.color)
    .attr("stroke-width", 1.6);
});

// frame
svg.append("rect").attr("x", x(1)).attr("y", y(15))
  .attr("width", x(100) - x(1)).attr("height", y(-15) - y(15))
  .attr("fill", "none").attr("stroke", "#8a8a8a").attr("stroke-width", 1);

// axes
var fmt = d => d3.format("d")(d);
var xAxis = svg.append("g").attr("transform", "translate(0," + y(-15) + ")")
  .call(d3.axisBottom(x).tickValues(xTicks).tickSize(-19).tickPadding(9).tickFormat(fmt));
var xMinor = svg.append("g").attr("transform", "translate(0," + y(-15) + ")")
  .call(d3.axisBottom(x).tickValues(d3.range(2, 100, 2).filter(d => d % 10 !== 0)).tickSize(-10).tickFormat(""));
var yAxis = svg.append("g").attr("transform", "translate(" + x(1) + ",0)")
  .call(d3.axisLeft(y).tickValues(yTicks).tickSize(-26).tickPadding(7).tickFormat(fmt));
var yMinor = svg.append("g").attr("transform", "translate(" + x(1) + ",0)")
  .call(d3.axisLeft(y).tickValues(d3.range(-14, 15, 1).filter(d => d % 5 !== 0)).tickSize(-13).tickFormat(""));

[xAxis, xMinor, yAxis, yMinor].forEach(function(a) {
  a.select(".domain").attr("stroke", "#666666").attr("stroke-width", 1.2);
  a.selectAll(".tick line").attr("stroke", "#777777").attr("stroke-width", 1.2);
  a.selectAll("text").attr("font-family", font).attr("font-size", 23).attr("fill", "#000");
});

// titles
svg.append("text").attr("x", 560.5).attr("y", 39).attr("text-anchor", "middle")
  .attr("font-family", font).attr("font-size", 26).text("Time Offsets for ARCA");
svg.append("text").attr("x", 997).attr("y", 756).attr("text-anchor", "end")
  .attr("font-family", font).attr("font-size", 24.5).text("iterations");
svg.append("text").attr("transform", "translate(72,75) rotate(-90)").attr("text-anchor", "end")
  .attr("font-family", font).attr("font-size", 24.5).text("offset (ns)");

// stats box
var box = svg.append("g");
box.append("rect").attr("x", 947.5).attr("y", 48.5).attr("width", 138).attr("height", 72)
  .attr("fill", "#ffffff").attr("stroke", "#777777").attr("stroke-width", 1);
box.append("line").attr("x1", 947.5).attr("x2", 1085.5).attr("y1", 65.5).attr("y2", 65.5)
  .attr("stroke", "#777777").attr("stroke-width", 1);
box.append("text").attr("x", 1020).attr("y", 63).attr("text-anchor", "middle")
  .attr("font-family", font).attr("font-size", 16).text("dom1");
statsRows.forEach(function(r, i) {
  box.append("text").attr("x", 955).attr("y", 81.5 + i * 17.5)
    .attr("font-family", font).attr("font-size", 15.5).text(r[0]);
  box.append("text").attr("x", 1078).attr("y", 81.5 + i * 17.5).attr("text-anchor", "end")
    .attr("font-family", font).attr("font-size", 15.5).text(r[1]);
});

svg.append("text").attr("x", 780).attr("y", 62)
  .attr("font-family", "Lato, 'Open Sans', sans-serif").attr("font-weight", 700)
  .attr("font-size", 40).attr("textLength", 198).attr("lengthAdjust", "spacingAndGlyphs")
  .text("DU1 & DU2");
</script>
</body>
</html>
